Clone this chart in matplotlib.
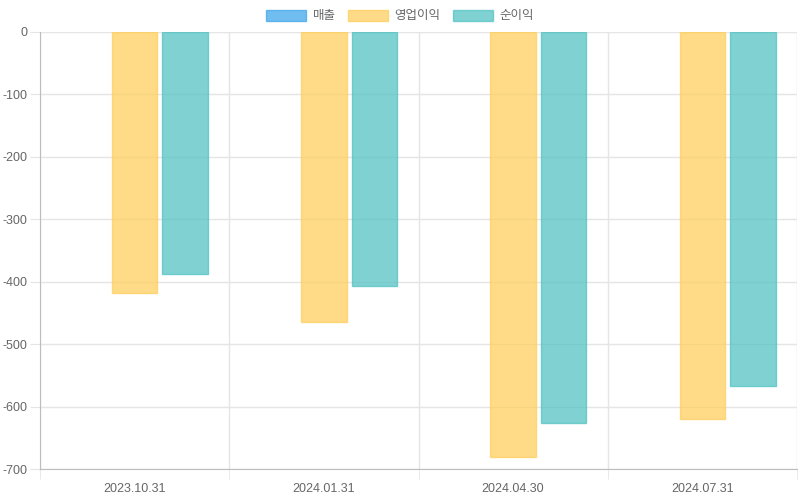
import numpy as np
import matplotlib.pyplot as plt
from matplotlib.patches import Patch

plt.rcParams['font.family'] = ['Liberation Sans', 'Noto Sans CJK KR', 'DejaVu Sans']

dates = ['2023.10.31', '2024.01.31', '2024.04.30', '2024.07.31']
series_names = ['매출', '영업이익', '순이익']
sales = [np.nan, np.nan, np.nan, np.nan]
op_income = [-418, -465, -680, -620]
net_income = [-388, -407, -627, -567]

colors = ['#36A2EB', '#FFCD56', '#4BC0C0']
grid_c = '#E5E5E5'
axis_c = '#BDBDBD'
text_c = '#666666'

fig = plt.figure(figsize=(8, 5), dpi=100)
ax = fig.add_axes([40/800, 31/500, 757/800, 437/500])

x = np.arange(len(dates))
slot = 0.8 / 3
bw = slot * 0.9
for k, vals in enumerate([sales, op_income, net_income]):
    ax.bar(x + (k - 1) * slot, vals, width=bw, color=colors[k], alpha=0.7,
           edgecolor=colors[k], linewidth=1, zorder=3)

ax.set_xlim(-0.5, len(dates) - 0.5)
ax.set_ylim(-700, 0)
ax.set_yticks(np.arange(-700, 1, 100))
ax.set_yticklabels([str(v) for v in range(-700, 1, 100)])
ax.set_xticks(x)
ax.set_xticklabels(dates)
ax.set_xticks(np.arange(-0.5, len(dates)), minor=True)

ax.grid(axis='y', color=grid_c, linewidth=1, zorder=0)
ax.grid(axis='x', which='minor', color=grid_c, linewidth=1, zorder=0)
ax.tick_params(axis='x', which='major', length=0, pad=10, labelsize=9, labelcolor=text_c)
ax.tick_params(axis='x', which='minor', length=7, color=grid_c)
ax.tick_params(axis='y', length=7, color=grid_c, labelsize=9, labelcolor=text_c, pad=2)

for side in ['top', 'right']:
    ax.spines[side].set_visible(False)
ax.spines['left'].set_color(axis_c)
ax.spines['bottom'].set_color(axis_c)

handles = [Patch(facecolor=c, edgecolor=c, alpha=0.7, linewidth=1) for c in colors]
fig.legend(handles, series_names, loc='center', bbox_to_anchor=(0.5, 1 - 16/500),
           ncol=3, frameon=False, fontsize=9, labelcolor=text_c,
           handlelength=3.2, handleheight=1.0, handletextpad=0.5, columnspacing=1.0)

fig.savefig('out.png', dpi=100)
